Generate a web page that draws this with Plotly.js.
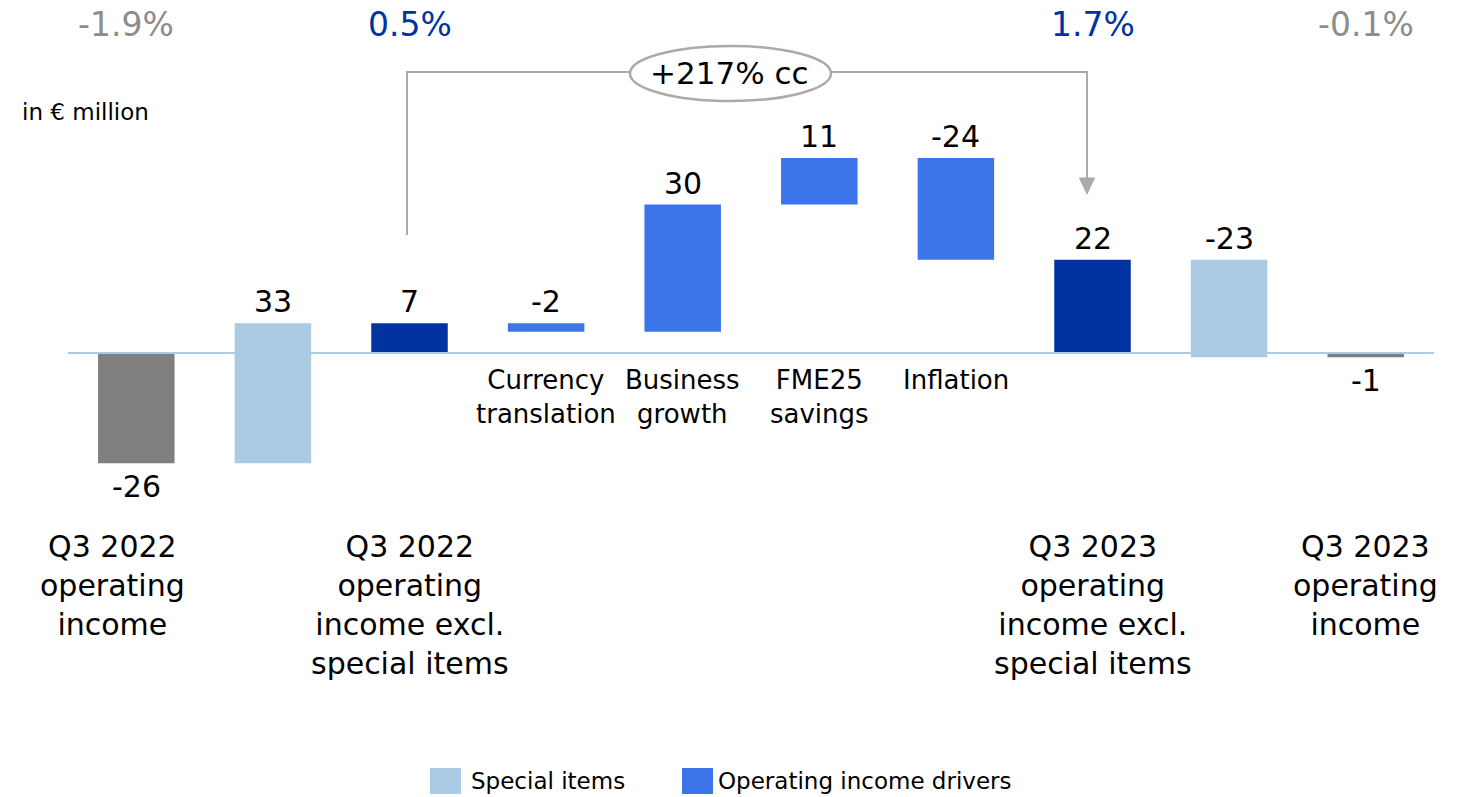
<!DOCTYPE html>
<html>
<head>
<meta charset="utf-8">
<script src="https://cdn.plot.ly/plotly-3.0.1.min.js"></script>
<style>
  html, body { margin: 0; padding: 0; background: #ffffff; }
  #chart { width: 1463px; height: 797px; }
</style>
</head>
<body>
<div id="chart"></div>
<script>
// ---------------- DATA ----------------
const categoryKeys = ['q322oi', 'si22', 'q322excl', 'fx', 'growth', 'fme25', 'inflation', 'q323excl', 'si23', 'q323oi'];
const categoryLabels = [
  'Q3 2022<br>operating<br>income',
  '',
  'Q3 2022<br>operating<br>income excl.<br>special items',
  'Currency<br>translation',
  'Business<br>growth',
  'FME25<br>savings',
  'Inflation',
  'Q3 2023<br>operating<br>income excl.<br>special items',
  '',
  'Q3 2023<br>operating<br>income'
];
const values = [-26, 33, 7, -2, 30, 11, -24, 22, -23, -1];
const measures = ['total', 'relative', 'total', 'relative', 'relative', 'relative', 'relative', 'total', 'relative', 'total'];
const groups = ['reported', 'special', 'excl', 'driver', 'driver', 'driver', 'driver', 'excl', 'special', 'reported'];
const marginLabels = ['-1.9%', '', '0.5%', '', '', '', '', '1.7%', '', '-0.1%'];
const seriesNames = { special: 'Special items', driver: 'Operating income drivers' };
const growthLabel = '+217% cc';
const unitLabel = 'in € million';

// ---------------- STYLE ----------------
const colors = { reported: '#7f7f7f', special: '#abcae3', excl: '#0033a0', driver: '#3c74ea' };
const pctColors = { reported: '#8c8c8c', excl: '#0033a0' };
const bracketColor = '#adaaa5';
const FONT = 'DejaVu Sans, Verdana, sans-serif';
const W = 1463, H = 797, L = 68, R = 29;
const PX_PER_UNIT = 4.24, ZERO_PX = 353;
const yTop = ZERO_PX / PX_PER_UNIT;
const yBottom = -(H - ZERO_PX) / PX_PER_UNIT;
const px = X => (X - L) / (W - L - R);
const py = Y => (H - Y) / H;

// ---------------- WATERFALL GEOMETRY ----------------
let running = 0;
const bases = [], heights = [];
values.forEach((v, i) => {
  if (measures[i] === 'total') { bases.push(0); heights.push(v); running = v; }
  else { bases.push(running); heights.push(v); running += v; }
});

const traces = [];
['reported', 'special', 'excl', 'driver'].forEach(g => {
  const idx = groups.map((gg, i) => gg === g ? i : -1).filter(i => i >= 0);
  traces.push({
    type: 'bar',
    name: seriesNames[g] || g,
    x: idx.map(i => categoryKeys[i]),
    y: idx.map(i => heights[i]),
    base: idx.map(i => bases[i]),
    width: 0.56,
    marker: { color: colors[g], line: { width: 0 } },
    showlegend: false,
    hoverinfo: 'skip',
    cliponaxis: false
  });
});

const annotations = [];
// value labels
values.forEach((v, i) => {
  const top = Math.max(bases[i], bases[i] + heights[i]);
  const bot = Math.min(bases[i], bases[i] + heights[i]);
  const below = measures[i] === 'total' && v < 0;
  annotations.push({
    x: categoryKeys[i], y: below ? bot : top, xref: 'x', yref: 'y',
    text: String(v), showarrow: false,
    yanchor: below ? 'top' : 'bottom', yshift: below ? -4 : 2,
    font: { family: FONT, size: 30, color: '#000000' }
  });
});
// category labels
categoryLabels.forEach((t, i) => {
  if (!t) return;
  const isDriver = groups[i] === 'driver';
  annotations.push({
    x: categoryKeys[i], xref: 'x', y: py(isDriver ? 363 : 527), yref: 'paper',
    text: t, showarrow: false, yanchor: 'top', xanchor: 'center',
    xshift: i === 0 ? -24 : 0,
    align: 'center',
    font: { family: FONT, size: isDriver ? 26 : 30, color: '#000000' }
  });
});
// margin percentages
marginLabels.forEach((t, i) => {
  if (!t) return;
  annotations.push({
    x: categoryKeys[i], xref: 'x', y: py(24), yref: 'paper',
    text: t, showarrow: false, yanchor: 'middle', xanchor: 'center',
    xshift: i === 0 ? -10 : 0,
    font: { family: FONT, size: 33, color: pctColors[groups[i]] }
  });
});
// unit label
annotations.push({
  x: px(20), xref: 'paper', y: py(112), yref: 'paper', xanchor: 'left', yanchor: 'middle',
  text: unitLabel, showarrow: false, font: { family: FONT, size: 23, color: '#000000' }
});
// growth bubble text
annotations.push({
  x: px(729), xref: 'paper', y: py(73), yref: 'paper', xanchor: 'center', yanchor: 'middle',
  text: growthLabel, showarrow: false, font: { family: FONT, size: 31, color: '#000000' }
});
// legend texts
annotations.push({
  x: px(469), xref: 'paper', y: py(781), yref: 'paper', xanchor: 'left', yanchor: 'middle',
  text: seriesNames.special, showarrow: false, font: { family: FONT, size: 23, color: '#000000' }
});
annotations.push({
  x: px(716), xref: 'paper', y: py(781), yref: 'paper', xanchor: 'left', yanchor: 'middle',
  text: seriesNames.driver, showarrow: false, font: { family: FONT, size: 23, color: '#000000' }
});

const shapes = [
  // baseline
  { type: 'line', xref: 'paper', yref: 'y', x0: 0, x1: 1, y0: 0, y1: 0,
    line: { color: '#abcae3', width: 2 }, layer: 'above' },
  // bracket
  { type: 'path', xref: 'paper', yref: 'paper',
    path: `M ${px(407)},${py(235)} L ${px(407)},${py(72)} L ${px(1087)},${py(72)} L ${px(1087)},${py(180)}`,
    line: { color: bracketColor, width: 2 }, layer: 'above' },
  // arrow head
  { type: 'path', xref: 'paper', yref: 'paper',
    path: `M ${px(1079.5)},${py(178)} L ${px(1094.5)},${py(178)} L ${px(1087)},${py(194)} Z`,
    fillcolor: bracketColor, line: { color: bracketColor, width: 1 }, layer: 'above' },
  // ellipse
  { type: 'circle', xref: 'paper', yref: 'paper',
    x0: px(630), x1: px(831), y0: py(101), y1: py(46),
    fillcolor: '#ffffff', line: { color: bracketColor, width: 2.5 }, layer: 'above' },
  // legend swatches
  { type: 'rect', xref: 'paper', yref: 'paper', x0: px(430), x1: px(461), y0: py(794), y1: py(768),
    fillcolor: colors.special, line: { width: 0 } },
  { type: 'rect', xref: 'paper', yref: 'paper', x0: px(682), x1: px(713), y0: py(794), y1: py(768),
    fillcolor: colors.driver, line: { width: 0 } }
];

const layout = {
  width: W, height: H,
  margin: { l: L, r: R, t: 0, b: 0, pad: 0 },
  paper_bgcolor: '#ffffff', plot_bgcolor: '#ffffff',
  barmode: 'overlay',
  showlegend: false,
  xaxis: { type: 'category', categoryorder: 'array', categoryarray: categoryKeys,
           range: [-0.5, categoryKeys.length - 0.5], visible: false, fixedrange: true },
  yaxis: { range: [yBottom, yTop], visible: false, zeroline: false, showgrid: false, fixedrange: true },
  font: { family: FONT },
  annotations: annotations,
  shapes: shapes
};

Plotly.newPlot('chart', traces, layout, { displayModeBar: false, staticPlot: true });
</script>
</body>
</html>
